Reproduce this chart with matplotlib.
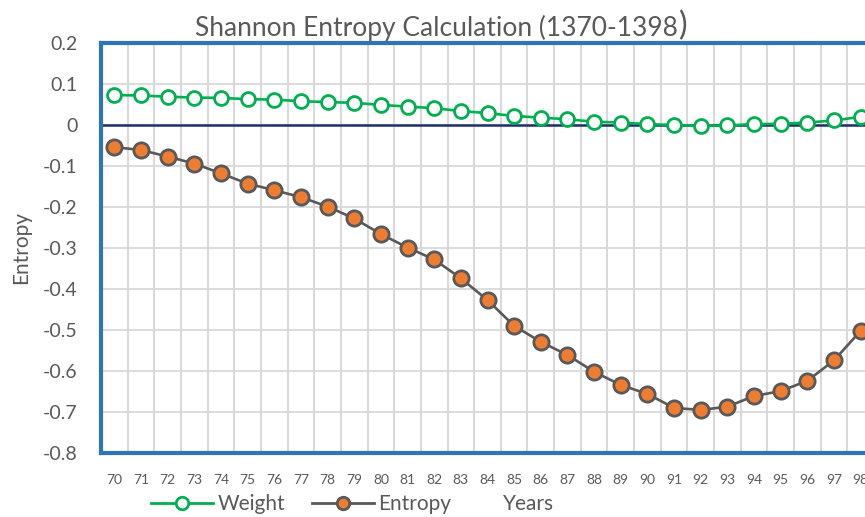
import matplotlib
matplotlib.use("Agg")
import matplotlib.pyplot as plt
from matplotlib.lines import Line2D

plt.rcParams['font.family'] = ['Lato', 'DejaVu Sans']

years = [str(y) for y in range(70, 99)]
weight = [0.073, 0.072, 0.069, 0.067, 0.066, 0.063, 0.062, 0.058, 0.056, 0.054,
          0.049, 0.045, 0.041, 0.034, 0.029, 0.022, 0.018, 0.014, 0.008, 0.006,
          0.002, 0.000, -0.002, -0.001, 0.002, 0.003, 0.006, 0.011, 0.020]
entropy = [-0.054, -0.061, -0.077, -0.094, -0.118, -0.143, -0.159, -0.176, -0.199, -0.228,
           -0.266, -0.299, -0.328, -0.374, -0.427, -0.490, -0.529, -0.561, -0.602, -0.634,
           -0.656, -0.690, -0.695, -0.687, -0.661, -0.649, -0.624, -0.574, -0.502]
yticks = [0.2, 0.1, 0, -0.1, -0.2, -0.3, -0.4, -0.5, -0.6, -0.7, -0.8]

green = '#00B050'
orange = '#ED7D31'
dgray = '#595959'
blue = '#2E75B6'
grid = '#D9D9D9'

fig = plt.figure(figsize=(8.65, 5.17), dpi=100)
ax = fig.add_axes([101 / 865, 1 - 453 / 517, 773 / 865, 410 / 517])

x = list(range(len(years)))

# grid: horizontal at ticks, vertical between categories
for v in yticks:
    ax.axhline(v, color=grid, lw=1.3, zorder=0)
for i in range(len(years) + 1):
    ax.axvline(i - 0.5, color=grid, lw=1.5, zorder=0)
ax.axhline(0, color='#1F2F6B', lw=1.8, zorder=1)

ax.plot(x, weight, color=green, lw=1.9, marker='o', markersize=10,
        markerfacecolor='white', markeredgecolor=green, markeredgewidth=2, zorder=3)
ax.plot(x, entropy, color=dgray, lw=1.9, marker='o', markersize=11,
        markerfacecolor=orange, markeredgecolor=dgray, markeredgewidth=2, zorder=3)

ax.set_xlim(-0.5, len(years) - 0.5)
ax.set_ylim(-0.8, 0.2)
ax.set_yticks(yticks)
ax.set_yticklabels(['0.2', '0.1', '0', '-0.1', '-0.2', '-0.3', '-0.4', '-0.5',
                    '-0.6', '-0.7', '-0.8'])
ax.set_xticks(x)
ax.set_xticklabels(years)
ax.tick_params(axis='y', length=0, labelsize=14, labelcolor=dgray, pad=17)
ax.tick_params(axis='x', length=0, labelsize=10, labelcolor=dgray, pad=15)

for s in ['left', 'top', 'bottom']:
    ax.spines[s].set_color(blue)
    ax.spines[s].set_linewidth(3)
ax.spines['right'].set_visible(False)

ax.set_ylabel('Entropy', fontsize=15, color=dgray, labelpad=8)

# title with the oversized closing bracket placed right after the text
title = fig.text(195 / 865, 0.945, 'Shannon Entropy Calculation (1370-1398', ha='left',
                 va='center', fontsize=19, color=dgray)
renderer = fig.canvas.get_renderer()
bb = title.get_window_extent(renderer)
fig.text((bb.x1 + 1) / 865, 0.95, ')', ha='left', va='center', fontsize=23, color=dgray)

handles = [
    Line2D([], [], color=green, lw=2, marker='o', markersize=9,
           markerfacecolor='white', markeredgecolor=green, markeredgewidth=2),
    Line2D([], [], color=dgray, lw=2, marker='o', markersize=9,
           markerfacecolor=orange, markeredgecolor=dgray, markeredgewidth=2),
]
fig.legend(handles, ['Weight', 'Entropy'], loc='center left',
           bbox_to_anchor=(0.174, 0.025), ncol=2, frameon=False, fontsize=15,
           labelcolor=dgray, handlelength=3.0, handletextpad=0.2, columnspacing=1.3,
           borderpad=0, borderaxespad=0)
fig.text(0.611, 0.025, 'Years', ha='center', va='center', fontsize=15, color=dgray)

fig.savefig('out.png', dpi=100)
